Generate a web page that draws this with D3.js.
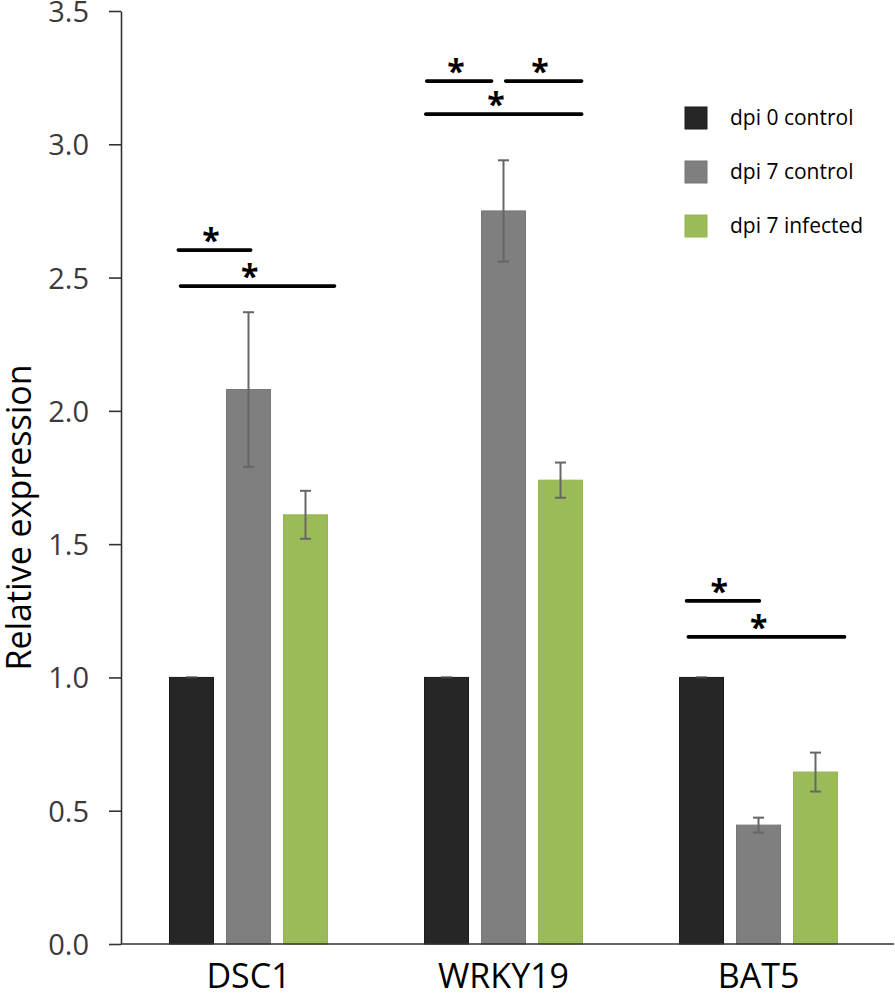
<!DOCTYPE html>
<html>
<head>
<meta charset="utf-8">
<script src="https://cdn.jsdelivr.net/npm/d3@7"></script>
<style>
  html, body { margin: 0; padding: 0; background: #fff; }
  svg { display: block; font-family: "Open Sans", "Noto Sans", sans-serif; }
</style>
</head>
<body>
<svg id="chart" width="895" height="993"></svg>
<script>
// ---- data ----
const categories = ["DSC1", "WRKY19", "BAT5"];
const seriesNames = ["dpi 0 control", "dpi 7 control", "dpi 7 infected"];
const dpi0Control = [1.0, 1.0, 1.0];
const dpi7Control = [2.08, 2.75, 0.446];
const dpi7Infected = [1.61, 1.74, 0.645];
const dpi0Err = [0, 0, 0];
const dpi7ControlErr = [0.29, 0.19, 0.028];
const dpi7InfectedErr = [0.09, 0.066, 0.073];
const yTicks = [0, 0.5, 1.0, 1.5, 2.0, 2.5, 3.0, 3.5];
const yLabel = "Relative expression";

// significance brackets: category, start/end (series index + fraction of bar), level, label
const sigCategory = ["DSC1", "DSC1", "WRKY19", "WRKY19", "WRKY19", "BAT5", "BAT5"];
const sigStart = [0.2, 0.25, 0.05, 1.55, 0.03, 0.16, 0.2];
const sigEnd = [1.55, 3.16, 1.23, 2.98, 2.98, 1.52, 3.16];
const sigLevel = [2.603, 2.468, 3.237, 3.237, 3.113, 1.287, 1.152];
const sigLabel = ["*", "*", "*", "*", "*", "*", "*"];

const colors = ["#262626", "#7f7f7f", "#9bbb59"];
const edgeColors = ["#1a1a1a", "#767676", "#93b552"];

// ---- layout ----
const svg = d3.select("#chart");
const W = 895;
const axisX = 121, baseY = 944, topY = 11;

const y = d3.scaleLinear().domain([0, 3.5]).range([baseY, topY]);
const x0 = d3.scaleBand().domain(categories).range([axisX, 886]).paddingInner(0).paddingOuter(0);
const groupW = 158;
const x1 = d3.scaleBand().domain(seriesNames)
  .range([(x0.bandwidth() - groupW) / 2, (x0.bandwidth() + groupW) / 2])
  .paddingInner(13 / 57).paddingOuter(0);

const values = [dpi0Control, dpi7Control, dpi7Infected];
const errs = [dpi0Err, dpi7ControlErr, dpi7InfectedErr];
const rows = [];
categories.forEach((c, ci) => {
  seriesNames.forEach((s, si) => {
    rows.push({ cat: c, ser: s, si, v: values[si][ci], e: errs[si][ci] });
  });
});

// bars
svg.append("g").selectAll("rect").data(rows).join("rect")
  .attr("x", d => x0(d.cat) + x1(d.ser))
  .attr("y", d => y(d.v))
  .attr("width", x1.bandwidth())
  .attr("height", d => y(0) - y(d.v))
  .attr("fill", d => colors[d.si])
  .attr("stroke", d => edgeColors[d.si])
  .attr("stroke-width", 1);

// error bars
const capHalf = 5.5;
const eg = svg.append("g").attr("stroke", "#666").attr("stroke-width", 2).attr("fill", "none");
rows.forEach(d => {
  const cx = x0(d.cat) + x1(d.ser) + x1.bandwidth() / 2;
  if (d.e > 0) {
    eg.append("line").attr("x1", cx).attr("x2", cx).attr("y1", y(d.v + d.e)).attr("y2", y(d.v - d.e));
    eg.append("line").attr("x1", cx - capHalf).attr("x2", cx + capHalf).attr("y1", y(d.v + d.e)).attr("y2", y(d.v + d.e));
    eg.append("line").attr("x1", cx - capHalf).attr("x2", cx + capHalf).attr("y1", y(d.v - d.e)).attr("y2", y(d.v - d.e));
  } else {
    eg.append("line").attr("x1", cx - capHalf).attr("x2", cx + capHalf).attr("y1", y(d.v)).attr("y2", y(d.v)).attr("stroke", "#444");
  }
});

// y axis
const yAxis = svg.append("g").attr("transform", `translate(${axisX},0)`)
  .call(d3.axisLeft(y).tickValues(yTicks).tickFormat(d3.format(".1f")).tickSize(12).tickSizeOuter(0).tickPadding(20));
yAxis.select(".domain").attr("stroke", "#333").attr("stroke-width", 1.6);
yAxis.selectAll(".tick line").attr("stroke", "#333").attr("stroke-width", 1.6);
yAxis.selectAll(".tick text").attr("font-size", 29).attr("fill", "#3a3a3a")
  .attr("font-family", "'Open Sans', sans-serif").attr("dy", "0.36em");

// x axis
const xAxis = svg.append("g").attr("transform", `translate(0,${baseY})`)
  .call(d3.axisBottom(x0).tickSize(0).tickSizeOuter(0));
xAxis.select(".domain").remove();
xAxis.append("line").attr("x1", axisX).attr("x2", W - 1).attr("y1", 0).attr("y2", 0)
  .attr("stroke", "#333").attr("stroke-width", 1.6);
xAxis.selectAll(".tick text").attr("font-size", 34).attr("fill", "#000")
  .attr("font-family", "'Open Sans', sans-serif").attr("y", 44).attr("dy", 0);

// y label
svg.append("text")
  .attr("transform", `translate(31,${y(1.6)}) rotate(-90)`)
  .attr("text-anchor", "middle")
  .attr("font-size", 34).attr("fill", "#000")
  .text(yLabel);

// significance brackets
const sg = svg.append("g");
sigCategory.forEach((c, i) => {
  const px = p => {
    const si = Math.min(Math.floor(p), 2);
    return x0(c) + x1(seriesNames[si]) + (p - si) * x1.bandwidth();
  };
  const xa = px(sigStart[i]), xb = px(sigEnd[i]), yy = y(sigLevel[i]);
  sg.append("line").attr("x1", xa).attr("x2", xb).attr("y1", yy).attr("y2", yy)
    .attr("stroke", "#000").attr("stroke-width", 3.6).attr("stroke-linecap", "round");
  sg.append("text").attr("x", xa + (xb - xa) * 0.45).attr("y", yy + 2)
    .attr("text-anchor", "middle").attr("font-size", 32).attr("font-weight", "bold")
    .attr("fill", "#000").text(sigLabel[i]);
});

// legend
const lg = svg.append("g").attr("transform", "translate(685,107)");
seriesNames.forEach((s, i) => {
  const g = lg.append("g").attr("transform", `translate(0,${i * 54})`);
  g.append("rect").attr("width", 22).attr("height", 22)
    .attr("fill", colors[i]).attr("stroke", edgeColors[i]).attr("stroke-width", 1);
  g.append("text").attr("x", 45).attr("y", 11).attr("dy", "0.35em")
    .attr("font-size", 21).attr("fill", "#000").text(s);
});
</script>
</body>
</html>
